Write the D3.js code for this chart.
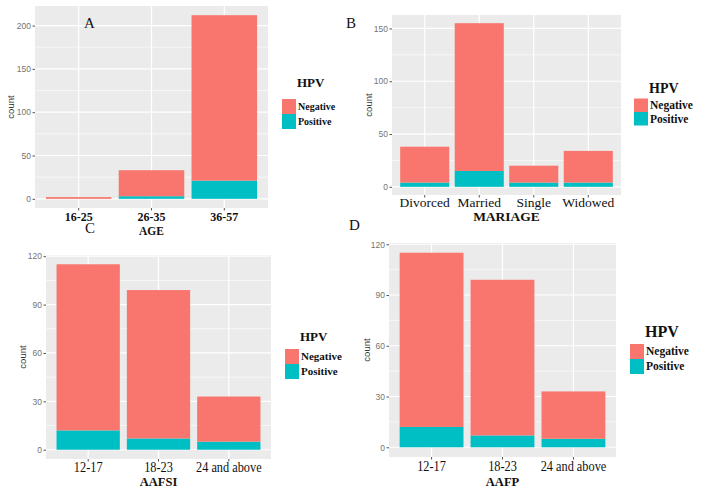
<!DOCTYPE html>
<html><head><meta charset="utf-8">
<script src="https://cdn.jsdelivr.net/npm/d3@7"></script>
<style>body{margin:0;background:#fff} svg{display:block}</style>
</head><body>
<svg id="c" width="708" height="492"></svg>
<script>
// ---- data ----
const legendTitle = "HPV";
const seriesNames = ["Negative", "Positive"];
const seriesColors = ["#F8766D", "#00BFC4"];

const ageCats = ["16-25", "26-35", "36-57"];
const ageNegative = [2, 30, 191];
const agePositive = [0, 3, 21];
const ageTicks = [0, 50, 100, 150, 200];

const mariageCats = ["Divorced", "Married", "Single", "Widowed"];
const mariageNegative = [34, 140, 16, 30];
const mariagePositive = [4, 15, 4, 4];
const mariageTicks = [0, 50, 100, 150];

const aafsiCats = ["12-17", "18-23", "24 and above"];
const aafsiNegative = [103, 92, 28];
const aafsiPositive = [12, 7, 5];
const aafsiTicks = [0, 30, 60, 90, 120];

const aafpCats = ["12-17", "18-23", "24 and above"];
const aafpNegative = [103, 92, 28];
const aafpPositive = [12, 7, 5];
const aafpTicks = [0, 30, 60, 90, 120];

const SERIF = "'Liberation Serif','Times New Roman',serif";
const SANS = "'Liberation Sans',Arial,sans-serif";
const svg = d3.select("#c");

function panel(o) {
  const g = svg.append("g");
  const totals = o.neg.map((d, i) => d + o.pos[i]);
  const maxT = d3.max(totals);
  const y = d3.scaleLinear().domain([-0.05 * maxT, 1.05 * maxT]).range([o.y1, o.y0]);
  const x = d3.scaleBand().domain(o.cats).range([o.x0, o.x1]).paddingInner(0.1).paddingOuter(0.15);

  g.append("rect").attr("x", o.x0).attr("y", o.y0).attr("width", o.x1 - o.x0).attr("height", o.y1 - o.y0).attr("fill", "#EBEBEB");
  // minor grid
  const step = o.ticks[1] - o.ticks[0];
  const minors = [];
  for (let v = o.ticks[0] - step / 2; v <= 1.05 * maxT; v += step) if (v >= -0.05 * maxT) minors.push(v);
  g.selectAll(".mn").data(minors).join("line").attr("x1", o.x0).attr("x2", o.x1)
    .attr("y1", d => y(d)).attr("y2", d => y(d)).attr("stroke", "#fff").attr("stroke-width", 0.6);
  g.selectAll(".mj").data(o.ticks).join("line").attr("x1", o.x0).attr("x2", o.x1)
    .attr("y1", d => y(d)).attr("y2", d => y(d)).attr("stroke", "#fff").attr("stroke-width", 1.2);
  g.selectAll(".vj").data(o.cats).join("line").attr("y1", o.y0).attr("y2", o.y1)
    .attr("x1", d => x(d) + x.bandwidth() / 2).attr("x2", d => x(d) + x.bandwidth() / 2).attr("stroke", "#fff").attr("stroke-width", 1.2);

  // bars
  g.selectAll(".bp").data(o.cats).join("rect")
    .attr("x", d => x(d)).attr("width", x.bandwidth())
    .attr("y", (d, i) => y(o.pos[i])).attr("height", (d, i) => y(0) - y(o.pos[i]))
    .attr("fill", seriesColors[1]);
  g.selectAll(".bn").data(o.cats).join("rect")
    .attr("x", d => x(d)).attr("width", x.bandwidth())
    .attr("y", (d, i) => y(o.pos[i] + o.neg[i])).attr("height", (d, i) => y(o.pos[i]) - y(o.pos[i] + o.neg[i]))
    .attr("fill", seriesColors[0]);

  // y axis
  const ya = g.append("g").attr("transform", `translate(${o.x0},0)`)
    .call(d3.axisLeft(y).tickValues(o.ticks).tickSize(2.5).tickPadding(1.5));
  ya.select(".domain").remove();
  ya.selectAll("line").attr("stroke", "#555");
  ya.selectAll("text").attr("fill", "#747474").style("font", `8.5px ${SANS}`);

  // x axis
  const xa = g.append("g").attr("transform", `translate(0,${o.y1})`)
    .call(d3.axisBottom(x).tickSize(2.5).tickPadding(o.xpad));
  xa.select(".domain").remove();
  xa.selectAll("line").attr("stroke", "#555");
  xa.selectAll("text").attr("fill", "#111").style("font", `${o.xbold ? "bold " : ""}${o.xfs}px ${SERIF}`)
    .attr("transform", `scale(${o.xsx},1)`);

  // axis titles
  g.append("text").attr("x", (o.x0 + o.x1) / 2).attr("y", o.titleY).attr("text-anchor", "middle")
    .style("font", `bold ${o.titleFs}px ${SERIF}`).attr("fill", "#111").text(o.title);
  g.append("text").attr("transform", `translate(${o.countX},${(o.y0 + o.y1) / 2}) rotate(-90)`)
    .attr("text-anchor", "middle").style("font", `9.5px ${SANS}`).attr("fill", "#333").text("count");

  // legend
  g.append("text").attr("x", o.lx + 1).attr("y", o.ly).style("font", `bold ${o.lts}px ${SERIF}`).attr("fill", "#111").text(legendTitle);
  seriesNames.forEach((s, i) => {
    g.append("rect").attr("x", o.lx - 14).attr("y", o.ky + i * o.kh).attr("width", o.kw).attr("height", o.kh).attr("fill", seriesColors[i]);
    g.append("text").attr("x", o.lx + o.kw - 12).attr("y", o.ky + i * o.kh + o.kh / 2 + o.lfs * 0.33)
      .style("font", `bold ${o.lfs}px ${SERIF}`).attr("fill", "#111").text(s);
  });
  // panel letter
  g.append("text").attr("x", o.letterX).attr("y", o.letterY).style("font", `15px ${SERIF}`).attr("fill", "#111").text(o.letter);
}

panel({cats: ageCats, neg: ageNegative, pos: agePositive, ticks: ageTicks,
  x0: 35, x1: 268, y0: 6, y1: 208, xpad: 2, xfs: 12, xbold: true, xsx: 1,
  title: "AGE", titleY: 235, titleFs: 11.5, countX: 14,
  lx: 296, ly: 87, lts: 13, ky: 99, kh: 15, kw: 14, lfs: 10,
  letter: "A", letterX: 84, letterY: 28});

panel({cats: mariageCats, neg: mariageNegative, pos: mariagePositive, ticks: mariageTicks,
  x0: 392, x1: 621, y0: 15, y1: 195, xpad: 0, xfs: 13.5, xbold: false, xsx: 1,
  title: "MARIAGE", titleY: 221, titleFs: 13.5, countX: 372,
  lx: 648, ly: 93, lts: 14, ky: 98.5, kh: 13.5, kw: 14, lfs: 11.5,
  letter: "B", letterX: 346, letterY: 28});

panel({cats: aafsiCats, neg: aafsiNegative, pos: aafsiPositive, ticks: aafsiTicks,
  x0: 46, x1: 271, y0: 255, y1: 459, xpad: 1, xfs: 14, xbold: false, xsx: 0.88,
  title: "AAFSI", titleY: 486, titleFs: 12.5, countX: 26,
  lx: 299, ly: 341, lts: 13, ky: 349, kh: 15, kw: 14, lfs: 11,
  letter: "C", letterX: 85, letterY: 233});

panel({cats: aafpCats, neg: aafpNegative, pos: aafpPositive, ticks: aafpTicks,
  x0: 389, x1: 616, y0: 243, y1: 457, xpad: 2, xfs: 14, xbold: false, xsx: 0.88,
  title: "AAFP", titleY: 486, titleFs: 12.5, countX: 370,
  lx: 644, ly: 337, lts: 16, ky: 344, kh: 15, kw: 14, lfs: 11.5,
  letter: "D", letterX: 349, letterY: 230});
</script>
</body></html>
